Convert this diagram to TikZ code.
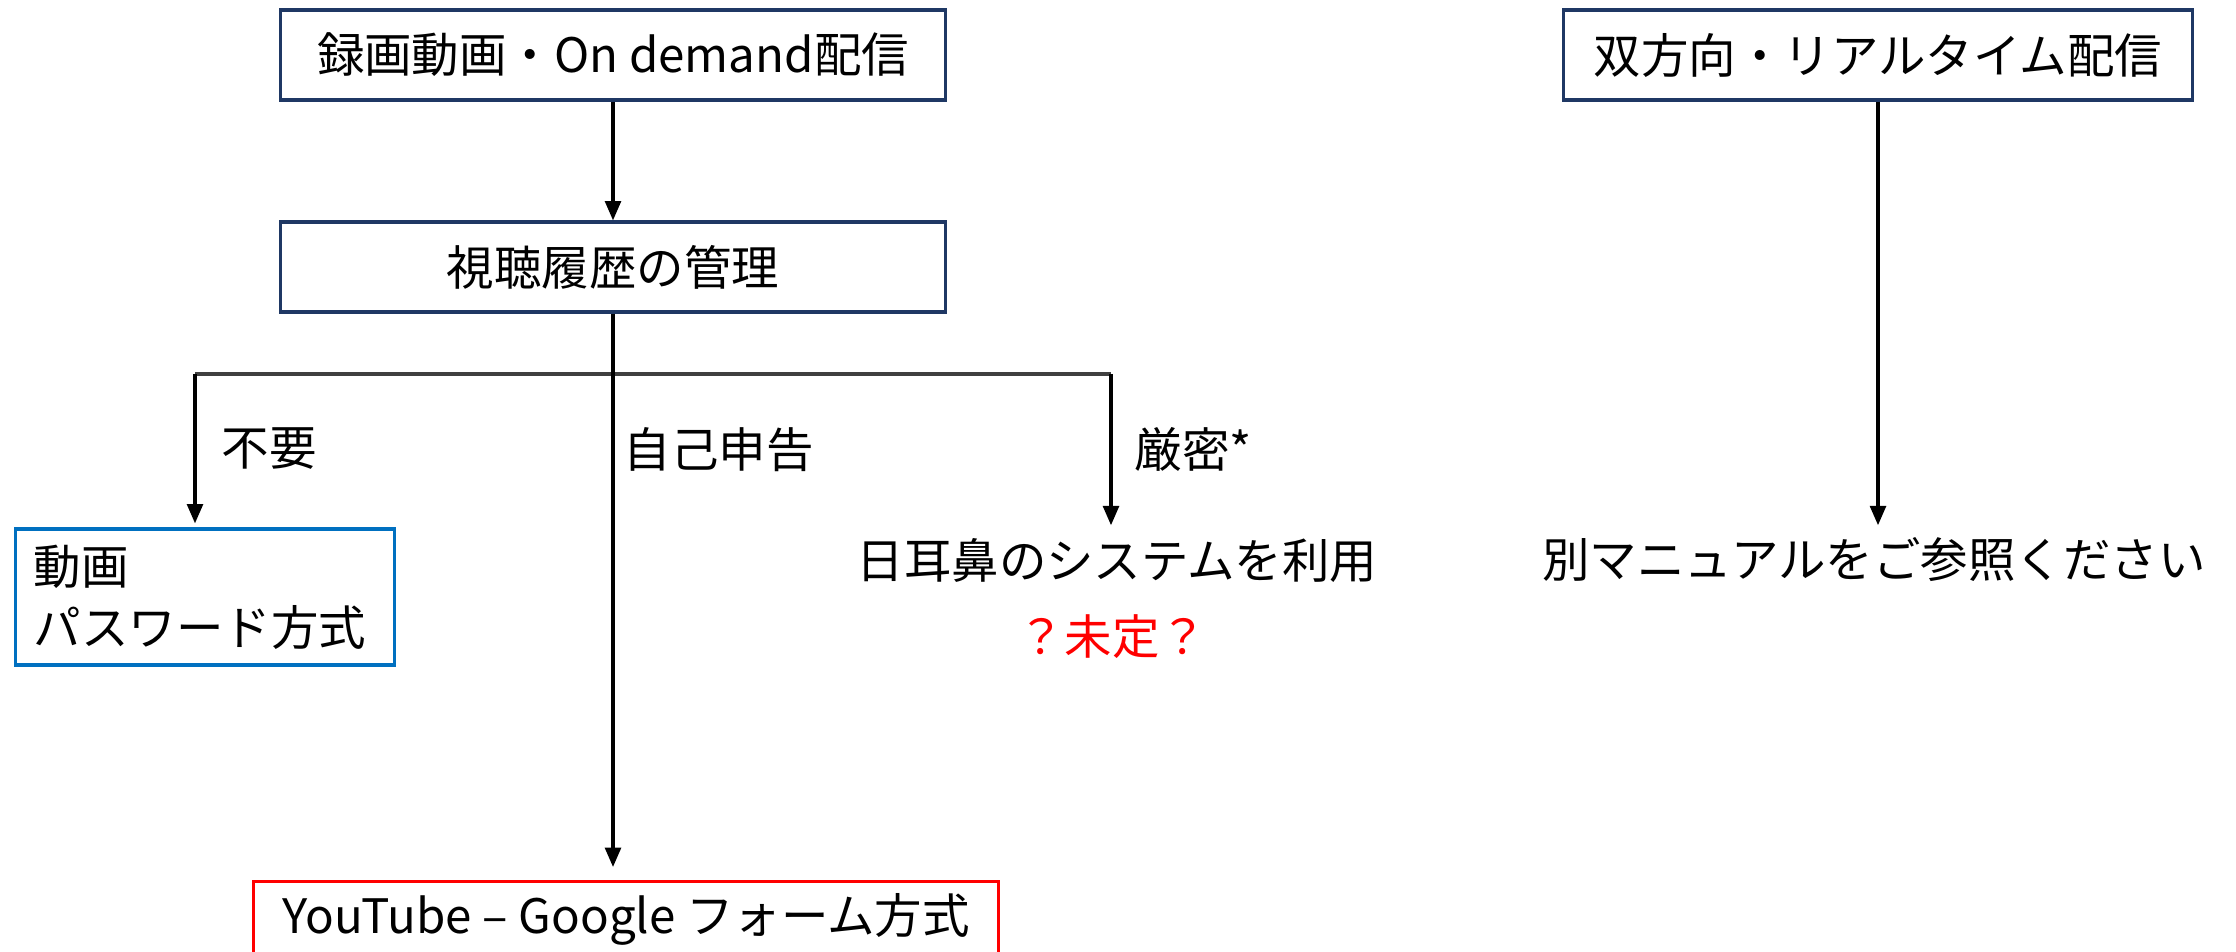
\documentclass[tikz,border=0pt]{standalone}
\usepackage{fontspec}
\setmainfont{Noto Sans CJK JP}
\usetikzlibrary{arrows.meta}
\definecolor{navy}{HTML}{1F3864}
\definecolor{pwblue}{HTML}{0070C0}
\definecolor{ytred}{HTML}{FF0000}
\definecolor{hgray}{HTML}{404040}
\tikzset{
  navybox/.style={draw=navy, line width=0.9pt, minimum height=0.9cm, inner sep=0pt},
  pwbox/.style={draw=pwblue, line width=0.9pt, minimum height=1.36cm, text width=3.42cm, inner xsep=0.18cm, inner ysep=0pt, align=left},
  ytbox/.style={draw=ytred, line width=0.9pt, minimum width=7.44cm, inner xsep=0pt, inner ysep=0.1cm, text height=0.42cm, text depth=0.5cm, anchor=north},
  plain/.style={inner sep=0.12cm},
  arr/.style={draw=black, line width=0.9pt, -{Triangle[length=5.5pt,width=4.5pt]}},
  hline/.style={draw=hgray, line width=1pt}
}
\begin{document}
\begin{tikzpicture}[x=0.01cm, y=-0.01cm, font=\fontsize{13.5pt}{17.4pt}\selectfont]
\useasboundingbox (0,0) rectangle (2236,951);
\clip (0,0) rectangle (2236,951);

\node[navybox, minimum width=6.64cm] (b1) at (613,55) {録画動画・On demand配信};
\node[navybox, minimum width=6.64cm] (b2) at (613,267) {視聴履歴の管理};
\node[navybox, minimum width=6.29cm] (b3) at (1878,55) {双方向・リアルタイム配信};

\node[pwbox, minimum width=3.78cm] (pw) at (205,597) {動画\\パスワード方式};
\node[ytbox] (yt) at (626,880) {YouTube – Google フォーム方式};
\node[plain] (nichi) at (1117,560) {日耳鼻のシステムを利用};
\node[plain, text=ytred] (mitei) at (1112,637) {？未定？};
\node[plain] (man) at (1874,560) {別マニュアルをご参照ください};

\node[plain, anchor=west, inner xsep=0pt] (l1) at (221,449) {不要};
\node[plain, anchor=west, inner xsep=0pt] (l2) at (623,450) {自己申告};
\node[plain, anchor=west, inner xsep=0pt] (l3) at (1134,449) {厳密*};

\coordinate (cL) at (195,374);
\coordinate (cR) at (1111,374);

\draw[arr] (b1.south) -- (b2.north);
\draw[hline] (cL) -- (cR);
\draw[arr, shorten >=0.13cm] (b2.south) -- (b2.south |- yt.north);
\draw[arr, shorten >=0.04cm] (cL) -- (cL |- pw.north);
\draw[arr] (cR) -- (cR |- nichi.north);
\draw[arr] (b3.south) -- (b3.south |- man.north);
\end{tikzpicture}
\end{document}
